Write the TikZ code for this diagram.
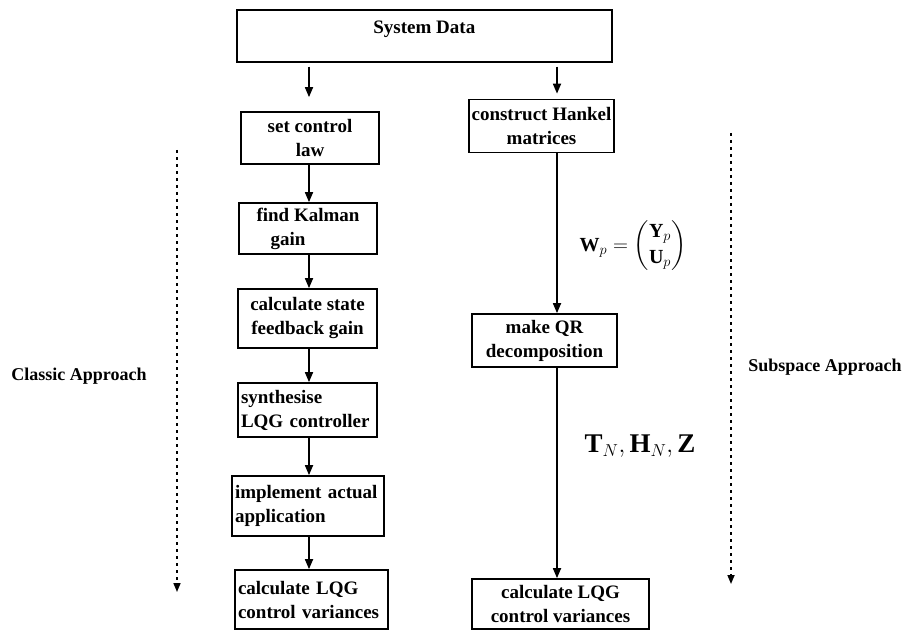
\documentclass[tikz,border=0pt]{standalone}
\usepackage{fontspec}
\usepackage{amsmath}
\setmainfont{Liberation Serif}
\usetikzlibrary{arrows.meta}
\begin{document}
\begin{tikzpicture}[x=1pt,y=-1pt,
  stepbox/.style={draw,line width=1.7pt,inner sep=2pt,font=\fontsize{19}{24}\selectfont\bfseries},
  flow/.style={line width=1.7pt,-{Triangle[length=10pt,width=8pt]}},
  span/.style={line width=1.6pt,dash pattern=on 3pt off 4pt,-{Triangle[length=9pt,width=7pt]}},
  side/.style={font=\fontsize{18}{22}\selectfont\bfseries}]
\useasboundingbox (0,0) rectangle (907,631);

% input block
\node[stepbox,minimum width=375pt,minimum height=52pt,anchor=north west,text depth=18pt] (sys) at (236,9) {System Data};

% classic column
\node[stepbox,minimum width=138pt,minimum height=52pt,align=center] (law) at (310,138) {set control\\law};
\node[stepbox,minimum width=138pt,minimum height=51pt,align=left] (kal) at (308,228.5) {find Kalman\\\hspace*{14pt}gain};
\node[stepbox,minimum width=139pt,minimum height=59pt,align=center] (sfb) at (307.5,318.5) {calculate state\\feedback gain};
\node[stepbox,minimum width=139pt,minimum height=54pt,align=left,text width=133pt] (syn) at (307.5,410) {synthesise\\LQG controller};
\node[stepbox,minimum width=152pt,minimum height=60pt,align=left,text width=146pt] (imp) at (308,506) {implement actual\\application};
\node[stepbox,minimum width=153pt,minimum height=59pt,align=left,text width=147pt] (varL) at (311.5,599.5) {calculate LQG\\control variances};

% subspace column
\node[stepbox,minimum width=145pt,minimum height=53pt,align=center] (hank) at (541.5,126) {construct Hankel\\matrices};
\node[stepbox,minimum width=145pt,minimum height=53pt,align=center] (qr) at (544.5,340.5) {make QR\\decomposition};
\node[stepbox,minimum width=177pt,minimum height=50pt,align=center] (varR) at (560.5,604) {calculate LQG\\control variances};

% arrow columns
\coordinate (cl) at (309,0);
\coordinate (cr) at (557,0);

\draw[flow,shorten <=4pt,shorten >=14pt] (sys.south -| cl) -- (law.north -| cl);
\draw[flow,shorten <=4pt,shorten >=5pt] (sys.south -| cr) -- (hank.north -| cr);

\draw[flow] (law.south -| cl) -- (kal.north -| cl);
\draw[flow] (kal.south -| cl) -- (sfb.north -| cl);
\draw[flow] (sfb.south -| cl) -- (syn.north -| cl);
\draw[flow] (syn.south -| cl) -- (imp.north -| cl);
\draw[flow] (imp.south -| cl) -- (varL.north -| cl);

\draw[flow] (hank.south -| cr) -- (qr.north -| cr);
\draw[flow] (qr.south -| cr) -- (varR.north -| cr);

% intermediate quantities
\node[font=\fontsize{20}{24}\selectfont] (wp) at (633,246)
  {$\mathbf{W}_{p}=\begin{pmatrix}\mathbf{Y}_{p}\\[2pt] \mathbf{U}_{p}\end{pmatrix}$};
\node[font=\fontsize{27}{30}\selectfont] (thz) at (640,446)
  {$\mathbf{T}_{N},\mathbf{H}_{N},\mathbf{Z}$};

% approach spans
\coordinate (cTop) at (177,150);
\coordinate (cBot) at (177,592);
\coordinate (sTop) at (731,133);
\coordinate (sBot) at (731,584);
\draw[span] (cTop) -- (cBot);
\draw[span] (sTop) -- (sBot);
\node[side] (classic) at (79,376) {Classic Approach};
\node[side] (subsp) at (825,367) {Subspace Approach};
\end{tikzpicture}
\end{document}
